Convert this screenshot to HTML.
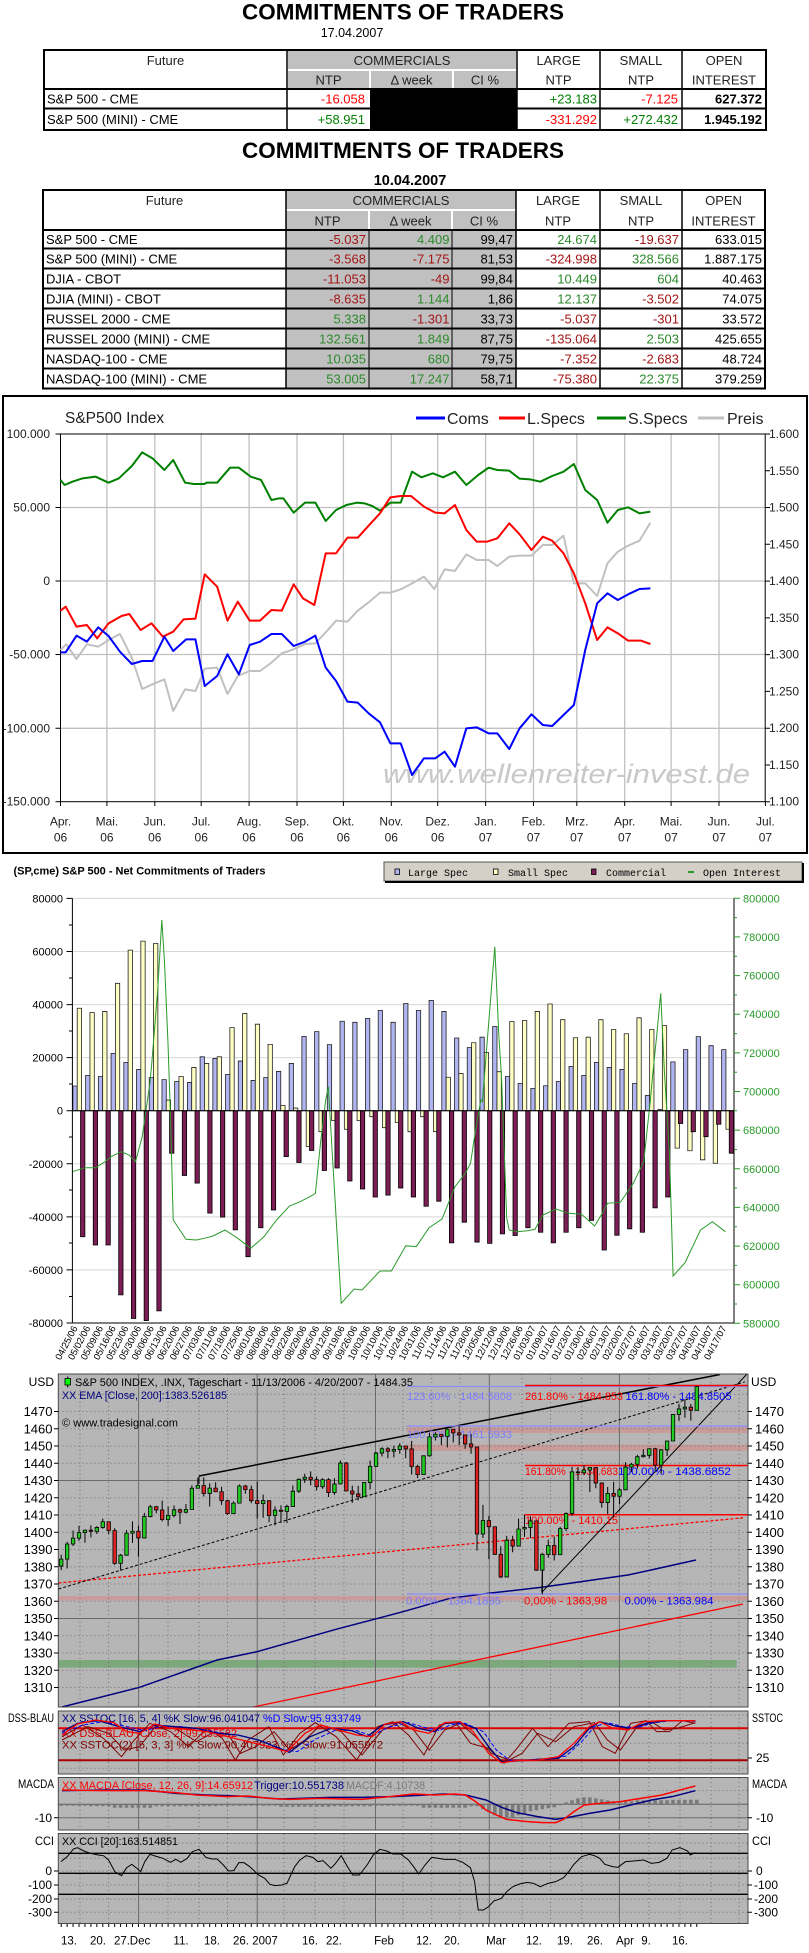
<!DOCTYPE html>
<html><head><meta charset="utf-8"><title>COT</title>
<style>
html,body{margin:0;padding:0;background:#fff;}
svg{display:block;}
text{font-family:"Liberation Sans",Arial,sans-serif;}
.mono{font-family:"Liberation Mono","DejaVu Sans Mono",monospace;}
</style></head><body>
<svg width="809" height="1953" viewBox="0 0 809 1953" xmlns="http://www.w3.org/2000/svg">
<rect width="809" height="1953" fill="#fff"/>

<!-- ================= TABLE 1 ================= -->
<text x="403" y="19.5" font-size="22" font-weight="bold" text-anchor="middle" textLength="322" lengthAdjust="spacingAndGlyphs">COMMITMENTS OF TRADERS</text>
<text x="352" y="37" font-size="12.5" text-anchor="middle">17.04.2007</text>

<rect x="288" y="51" width="228" height="18" fill="#c0c0c0"/>
<rect x="288" y="71" width="81" height="17" fill="#c0c0c0"/>
<rect x="371" y="71" width="81" height="17" fill="#c0c0c0"/>
<rect x="454" y="71" width="62" height="17" fill="#c0c0c0"/>
<rect x="370" y="89" width="147" height="41" fill="#000"/>
<g stroke="#000" fill="none">
<rect x="44" y="50" width="722" height="80" stroke-width="2"/>
<path d="M287 50V130M517 50V130M600 50V130M682 50V130" stroke-width="1.5"/>
<path d="M44 89H766M44 108.5H766" stroke-width="2"/>
</g>
<g font-size="13" fill="#222" text-anchor="middle">
<text x="165.5" y="65">Future</text>
<text x="402" y="65">COMMERCIALS</text>
<text x="558.5" y="65">LARGE</text><text x="558.5" y="84.5">NTP</text>
<text x="641" y="65">SMALL</text><text x="641" y="84.5">NTP</text>
<text x="724" y="65">OPEN</text><text x="724" y="84.5">INTEREST</text>
<text x="328.5" y="84.5">NTP</text>
<text x="411.5" y="84.5">Δ week</text>
<text x="485" y="84.5">CI %</text>
</g>
<g font-size="13">
<text x="47" y="103.5">S&amp;P 500 - CME</text>
<text x="47" y="124">S&amp;P 500 (MINI) - CME</text>
<g text-anchor="end">
<text x="365" y="103.5" fill="#ff0000">-16.058</text>
<text x="597" y="103.5" fill="#008000">+23.183</text>
<text x="678" y="103.5" fill="#ff0000">-7.125</text>
<text x="762" y="103.5" font-weight="bold">627.372</text>
<text x="365" y="124" fill="#008000">+58.951</text>
<text x="597" y="124" fill="#ff0000">-331.292</text>
<text x="678" y="124" fill="#008000">+272.432</text>
<text x="762" y="124" font-weight="bold">1.945.192</text>
</g></g>

<!-- ================= TABLE 2 ================= -->
<text x="403" y="158" font-size="22" font-weight="bold" text-anchor="middle" textLength="322" lengthAdjust="spacingAndGlyphs">COMMITMENTS OF TRADERS</text>
<text x="410" y="185" font-size="14.5" font-weight="bold" text-anchor="middle">10.04.2007</text>

<rect x="286" y="190" width="230" height="198.5" fill="#c0c0c0"/>
<path d="M286 210H516M369 210V230M452 210V230" stroke="#fff" stroke-width="2"/>
<g stroke="#000" fill="none">
<rect x="43" y="190" width="722" height="198.5" stroke-width="2"/>
<path d="M286 190V388.5M516 190V388.5M600 190V388.5M682 190V388.5" stroke-width="1.5"/>
<path d="M369 230V388.5M452 230V388.5" stroke-width="1"/>
<path d="M43 230H765M43 248.5H765M43 268.5H765M43 288.5H765M43 308.5H765M43 328.5H765M43 348.5H765M43 368.5H765" stroke-width="2"/>
</g>
<g font-size="13" fill="#222" text-anchor="middle">
<text x="164.5" y="205">Future</text>
<text x="401" y="205">COMMERCIALS</text>
<text x="558" y="205">LARGE</text><text x="558" y="225.5">NTP</text>
<text x="641" y="205">SMALL</text><text x="641" y="225.5">NTP</text>
<text x="723.5" y="205">OPEN</text><text x="723.5" y="225.5">INTEREST</text>
<text x="327.5" y="225.5">NTP</text>
<text x="410.5" y="225.5">Δ week</text>
<text x="484" y="225.5">CI %</text>
</g>
<g font-size="13">
<text x="46" y="244">S&amp;P 500 - CME</text>
<text x="46" y="263.5">S&amp;P 500 (MINI) - CME</text>
<text x="46" y="283.5">DJIA - CBOT</text>
<text x="46" y="303.5">DJIA (MINI) - CBOT</text>
<text x="46" y="323.5">RUSSEL 2000 - CME</text>
<text x="46" y="343.5">RUSSEL 2000 (MINI) - CME</text>
<text x="46" y="363.5">NASDAQ-100 - CME</text>
<text x="46" y="383.5">NASDAQ-100 (MINI) - CME</text>
</g>
<g font-size="13" text-anchor="end">
<g>
<text x="366" y="244" fill="#a31515">-5.037</text>
<text x="366" y="263.5" fill="#a31515">-3.568</text>
<text x="366" y="283.5" fill="#a31515">-11.053</text>
<text x="366" y="303.5" fill="#a31515">-8.635</text>
<text x="366" y="323.5" fill="#2b8a2b">5.338</text>
<text x="366" y="343.5" fill="#2b8a2b">132.561</text>
<text x="366" y="363.5" fill="#2b8a2b">10.035</text>
<text x="366" y="383.5" fill="#2b8a2b">53.005</text>
</g>
<g>
<text x="449.5" y="244" fill="#2b8a2b">4.409</text>
<text x="449.5" y="263.5" fill="#a31515">-7.175</text>
<text x="449.5" y="283.5" fill="#a31515">-49</text>
<text x="449.5" y="303.5" fill="#2b8a2b">1.144</text>
<text x="449.5" y="323.5" fill="#a31515">-1.301</text>
<text x="449.5" y="343.5" fill="#2b8a2b">1.849</text>
<text x="449.5" y="363.5" fill="#2b8a2b">680</text>
<text x="449.5" y="383.5" fill="#2b8a2b">17.247</text>
</g>
<g fill="#000">
<text x="513" y="244">99,47</text>
<text x="513" y="263.5">81,53</text>
<text x="513" y="283.5">99,84</text>
<text x="513" y="303.5">1,86</text>
<text x="513" y="323.5">33,73</text>
<text x="513" y="343.5">87,75</text>
<text x="513" y="363.5">79,75</text>
<text x="513" y="383.5">58,71</text>
</g>
<g>
<text x="597" y="244" fill="#2b8a2b">24.674</text>
<text x="597" y="263.5" fill="#a31515">-324.998</text>
<text x="597" y="283.5" fill="#2b8a2b">10.449</text>
<text x="597" y="303.5" fill="#2b8a2b">12.137</text>
<text x="597" y="323.5" fill="#a31515">-5.037</text>
<text x="597" y="343.5" fill="#a31515">-135.064</text>
<text x="597" y="363.5" fill="#a31515">-7.352</text>
<text x="597" y="383.5" fill="#a31515">-75.380</text>
</g>
<g>
<text x="679" y="244" fill="#a31515">-19.637</text>
<text x="679" y="263.5" fill="#2b8a2b">328.566</text>
<text x="679" y="283.5" fill="#2b8a2b">604</text>
<text x="679" y="303.5" fill="#a31515">-3.502</text>
<text x="679" y="323.5" fill="#a31515">-301</text>
<text x="679" y="343.5" fill="#2b8a2b">2.503</text>
<text x="679" y="363.5" fill="#a31515">-2.683</text>
<text x="679" y="383.5" fill="#2b8a2b">22.375</text>
</g>
<g fill="#000">
<text x="762" y="244">633.015</text>
<text x="762" y="263.5">1.887.175</text>
<text x="762" y="283.5">40.463</text>
<text x="762" y="303.5">74.075</text>
<text x="762" y="323.5">33.572</text>
<text x="762" y="343.5">425.655</text>
<text x="762" y="363.5">48.724</text>
<text x="762" y="383.5">379.259</text>
</g>
</g>

<!-- ================= CHART 1 ================= -->
<rect x="3" y="396" width="804" height="457" fill="#fff" stroke="#000" stroke-width="2"/>
<text x="65" y="423" font-size="15.5" fill="#222">S&amp;P500 Index</text>
<g stroke-width="3">
<line x1="416" y1="418" x2="445" y2="418" stroke="#0000ff"/>
<line x1="499" y1="418" x2="525" y2="418" stroke="#ff0000"/>
<line x1="597" y1="418" x2="626" y2="418" stroke="#008000"/>
<line x1="698" y1="418" x2="724" y2="418" stroke="#c0c0c0"/>
</g>
<g font-size="16" fill="#222">
<text x="447" y="424">Coms</text>
<text x="527" y="424">L.Specs</text>
<text x="628" y="424">S.Specs</text>
<text x="727" y="424">Preis</text>
</g>
<path d="M106.9 434V801.7M154.8 434V801.7M201.2 434V801.7M249.1 434V801.7M297 434V801.7M343.4 434V801.7M391.3 434V801.7M437.7 434V801.7M485.6 434V801.7M533.5 434V801.7M576.8 434V801.7M624.7 434V801.7M671.1 434V801.7M719 434V801.7M60.5 507.5H765.2M60.5 581H765.2M60.5 654.5H765.2M60.5 728.3H765.2" stroke="#c0c0c0" stroke-width="1.3" fill="none"/>
<text x="383" y="783" font-size="27" font-style="italic" fill="#c8c8c8" textLength="367" lengthAdjust="spacingAndGlyphs">www.wellenreiter-invest.de</text>
<rect x="60.5" y="434" width="704.7" height="367.7" fill="none" stroke="#000" stroke-width="1"/>
<path d="M55.5 434H60.5M55.5 507.5H60.5M55.5 581H60.5M55.5 654.5H60.5M55.5 728.3H60.5M55.5 801.7H60.5M765.2 434H770M765.2 470.8H770M765.2 507.5H770M765.2 544.3H770M765.2 581.1H770M765.2 617.9H770M765.2 654.6H770M765.2 691.4H770M765.2 728.2H770M765.2 765H770M765.2 801.7H770M60.5 801.7V806M106.9 801.7V806M154.8 801.7V806M201.2 801.7V806M249.1 801.7V806M297 801.7V806M343.4 801.7V806M391.3 801.7V806M437.7 801.7V806M485.6 801.7V806M533.5 801.7V806M576.8 801.7V806M624.7 801.7V806M671.1 801.7V806M719 801.7V806M765.4 801.7V806" stroke="#000" stroke-width="1"/>
<g font-size="12" fill="#222" text-anchor="end">
<text x="50" y="438">100.000</text>
<text x="50" y="511.5">50.000</text>
<text x="50" y="585">0</text>
<text x="50" y="658.5">-50.000</text>
<text x="50" y="732.3">-100.000</text>
<text x="50" y="805.7">-150.000</text>
</g>
<g font-size="12" fill="#222">
<text x="769" y="438">1.600</text>
<text x="769" y="474.8">1.550</text>
<text x="769" y="511.5">1.500</text>
<text x="769" y="548.3">1.450</text>
<text x="769" y="585.1">1.400</text>
<text x="769" y="621.9">1.350</text>
<text x="769" y="658.6">1.300</text>
<text x="769" y="695.4">1.250</text>
<text x="769" y="732.2">1.200</text>
<text x="769" y="769">1.150</text>
<text x="769" y="805.7">1.100</text>
</g>
<g font-size="12" fill="#222" text-anchor="middle">
<text x="60.5" y="825.5">Apr.</text><text x="60.5" y="841.5">06</text>
<text x="106.9" y="825.5">Mai.</text><text x="106.9" y="841.5">06</text>
<text x="154.8" y="825.5">Jun.</text><text x="154.8" y="841.5">06</text>
<text x="201.2" y="825.5">Jul.</text><text x="201.2" y="841.5">06</text>
<text x="249.1" y="825.5">Aug.</text><text x="249.1" y="841.5">06</text>
<text x="297" y="825.5">Sep.</text><text x="297" y="841.5">06</text>
<text x="343.4" y="825.5">Okt.</text><text x="343.4" y="841.5">06</text>
<text x="391.3" y="825.5">Nov.</text><text x="391.3" y="841.5">06</text>
<text x="437.7" y="825.5">Dez.</text><text x="437.7" y="841.5">06</text>
<text x="485.6" y="825.5">Jan.</text><text x="485.6" y="841.5">07</text>
<text x="533.5" y="825.5">Feb.</text><text x="533.5" y="841.5">07</text>
<text x="576.8" y="825.5">Mrz.</text><text x="576.8" y="841.5">07</text>
<text x="624.7" y="825.5">Apr.</text><text x="624.7" y="841.5">07</text>
<text x="671.1" y="825.5">Mai.</text><text x="671.1" y="841.5">07</text>
<text x="719" y="825.5">Jun.</text><text x="719" y="841.5">07</text>
<text x="765.4" y="825.5">Jul.</text><text x="765.4" y="841.5">07</text>
</g>
<g transform="translate(0,390) scale(0.517,0.33333)" fill="none" stroke-width="2" stroke-linejoin="round">
<polyline vector-effect="non-scaling-stroke" stroke="#c0c0c0" points="117,780 128,763 148,807 168,763 190,770 210,750 232,732 255,803 275,897 295,883 318,868 335,963 358,898 378,903 396,836 420,833 440,912 460,858 483,843 503,843 525,818 545,790 568,778 590,762 610,760 630,727 650,692 672,695 692,662 713,637 735,608 755,608 775,598 797,580 820,560 840,597 860,538 880,543 902,493 922,510 945,510 962,528 985,500 1005,497 1028,497 1050,465 1068,465 1090,437 1110,580 1132,580 1155,618 1175,520 1195,485 1215,467 1237,452 1258,398"/>
<polyline vector-effect="non-scaling-stroke" stroke="#008000" points="117,270 125,285 140,275 160,265 185,260 210,278 230,265 255,228 275,187 295,205 318,240 335,210 358,278 375,282 395,282 400,278 420,278 445,233 462,233 485,260 505,270 525,330 540,325 548,325 568,368 590,338 610,338 630,393 650,360 670,345 690,338 705,340 720,348 735,362 755,338 775,338 797,245 815,262 837,250 857,262 880,245 902,285 925,255 945,233 962,240 985,242 1005,266 1025,268 1045,275 1068,258 1090,245 1110,222 1132,300 1155,330 1175,398 1195,360 1215,352 1237,370 1258,365"/>
<polyline vector-effect="non-scaling-stroke" stroke="#ff0000" points="117,662 127,650 148,710 168,705 188,745 210,700 235,678 250,672 272,720 293,700 315,740 335,725 355,688 378,686 396,553 420,590 440,692 460,635 483,692 503,692 525,660 545,662 568,583 586,625 608,645 630,490 650,490 672,443 692,443 713,407 735,370 755,322 775,318 795,318 820,350 842,368 860,370 880,345 902,420 922,455 942,455 962,445 985,400 1005,433 1028,480 1050,440 1068,452 1090,490 1110,550 1132,640 1155,750 1175,712 1195,730 1215,752 1240,752 1258,762"/>
<polyline vector-effect="non-scaling-stroke" stroke="#0000ff" points="117,787 127,787 148,737 168,755 190,712 210,738 232,785 255,822 275,813 295,813 318,740 335,783 360,748 378,748 396,888 420,858 440,793 462,853 483,765 503,755 525,732 545,732 568,768 590,755 610,737 630,833 650,873 672,935 692,938 713,970 735,997 755,1060 775,1060 797,1155 820,1105 842,1105 860,1085 880,1130 902,1015 922,1012 945,1030 962,1030 985,1077 1005,1015 1028,973 1050,1005 1068,1008 1090,975 1110,945 1132,780 1155,640 1175,610 1195,630 1215,613 1237,597 1258,595"/>
</g>

<!-- ================= CHART 2 ================= -->
<text x="13.5" y="874.5" font-size="11" font-weight="bold" textLength="252" lengthAdjust="spacingAndGlyphs">(SP,cme) S&amp;P 500 - Net Commitments of Traders</text>
<rect x="384" y="862" width="418" height="19" fill="#d4d0c8" stroke="#555" stroke-width="1"/>
<path d="M385 882H803V863" stroke="#000" stroke-width="2" fill="none"/>
<rect x="395" y="869" width="4.5" height="5.5" fill="#b0b4f0" stroke="#000" stroke-width="0.8"/>
<rect x="493.5" y="869" width="4.5" height="5.5" fill="#ffffc4" stroke="#000" stroke-width="0.8"/>
<rect x="591.5" y="869" width="4.5" height="5.5" fill="#7d1d55" stroke="#000" stroke-width="0.8"/>
<line x1="688" y1="872" x2="694" y2="872" stroke="#2a9a2a" stroke-width="2"/>
<g class="mono" font-size="10" fill="#000">
<text x="408" y="876" class="mono">Large Spec</text>
<text x="508" y="876" class="mono">Small Spec</text>
<text x="606" y="876" class="mono">Commercial</text>
<text x="703" y="876" class="mono">Open Interest</text>
</g>
<path d="M72.4 898.4H734M72.4 951.5H734M72.4 1004.6H734M72.4 1057.6H734M72.4 1163.8H734M72.4 1216.9H734M72.4 1269.9H734" stroke="#d8d8d8" stroke-width="1" fill="none"/>
<g transform="translate(72.4,1110.7) scale(12.72,-2.654)" stroke="#222" stroke-width="0.8">
<g fill="#b0b4f0">
<rect vector-effect="non-scaling-stroke" x="0.04" y="0" width="0.34" height="9.3"/>
<rect vector-effect="non-scaling-stroke" x="1.04" y="0" width="0.34" height="13.3"/>
<rect vector-effect="non-scaling-stroke" x="2.04" y="0" width="0.34" height="12.9"/>
<rect vector-effect="non-scaling-stroke" x="3.04" y="0" width="0.34" height="21.6"/>
<rect vector-effect="non-scaling-stroke" x="4.04" y="0" width="0.34" height="18.2"/>
<rect vector-effect="non-scaling-stroke" x="5.04" y="0" width="0.34" height="15.5"/>
<rect vector-effect="non-scaling-stroke" x="6.04" y="0" width="0.34" height="12.5"/>
<rect vector-effect="non-scaling-stroke" x="7.04" y="0" width="0.34" height="11.7"/>
<rect vector-effect="non-scaling-stroke" x="8.04" y="0" width="0.34" height="11.0"/>
<rect vector-effect="non-scaling-stroke" x="9.04" y="0" width="0.34" height="10.6"/>
<rect vector-effect="non-scaling-stroke" x="10.04" y="0" width="0.34" height="20.3"/>
<rect vector-effect="non-scaling-stroke" x="11.04" y="0" width="0.34" height="19.7"/>
<rect vector-effect="non-scaling-stroke" x="12.04" y="0" width="0.34" height="13.7"/>
<rect vector-effect="non-scaling-stroke" x="13.04" y="0" width="0.34" height="18.7"/>
<rect vector-effect="non-scaling-stroke" x="14.04" y="0" width="0.34" height="11.4"/>
<rect vector-effect="non-scaling-stroke" x="15.04" y="0" width="0.34" height="12.5"/>
<rect vector-effect="non-scaling-stroke" x="16.04" y="0" width="0.34" height="14.8"/>
<rect vector-effect="non-scaling-stroke" x="17.04" y="0" width="0.34" height="17.8"/>
<rect vector-effect="non-scaling-stroke" x="18.04" y="0" width="0.34" height="28.0"/>
<rect vector-effect="non-scaling-stroke" x="19.04" y="0" width="0.34" height="29.8"/>
<rect vector-effect="non-scaling-stroke" x="20.04" y="0" width="0.34" height="24.9"/>
<rect vector-effect="non-scaling-stroke" x="21.04" y="0" width="0.34" height="33.7"/>
<rect vector-effect="non-scaling-stroke" x="22.04" y="0" width="0.34" height="33.3"/>
<rect vector-effect="non-scaling-stroke" x="23.04" y="0" width="0.34" height="34.8"/>
<rect vector-effect="non-scaling-stroke" x="24.04" y="0" width="0.34" height="37.8"/>
<rect vector-effect="non-scaling-stroke" x="25.04" y="0" width="0.34" height="33.3"/>
<rect vector-effect="non-scaling-stroke" x="26.04" y="0" width="0.34" height="40.4"/>
<rect vector-effect="non-scaling-stroke" x="27.04" y="0" width="0.34" height="37.8"/>
<rect vector-effect="non-scaling-stroke" x="28.04" y="0" width="0.34" height="41.5"/>
<rect vector-effect="non-scaling-stroke" x="29.04" y="0" width="0.34" height="37.4"/>
<rect vector-effect="non-scaling-stroke" x="30.04" y="0" width="0.34" height="27.4"/>
<rect vector-effect="non-scaling-stroke" x="31.04" y="0" width="0.34" height="23.8"/>
<rect vector-effect="non-scaling-stroke" x="32.04" y="0" width="0.34" height="27.7"/>
<rect vector-effect="non-scaling-stroke" x="33.04" y="0" width="0.34" height="31.7"/>
<rect vector-effect="non-scaling-stroke" x="34.04" y="0" width="0.34" height="12.9"/>
<rect vector-effect="non-scaling-stroke" x="35.04" y="0" width="0.34" height="10.3"/>
<rect vector-effect="non-scaling-stroke" x="36.04" y="0" width="0.34" height="8.4"/>
<rect vector-effect="non-scaling-stroke" x="37.04" y="0" width="0.34" height="9.4"/>
<rect vector-effect="non-scaling-stroke" x="38.04" y="0" width="0.34" height="11.0"/>
<rect vector-effect="non-scaling-stroke" x="39.04" y="0" width="0.34" height="16.7"/>
<rect vector-effect="non-scaling-stroke" x="40.04" y="0" width="0.34" height="13.3"/>
<rect vector-effect="non-scaling-stroke" x="41.04" y="0" width="0.34" height="18.2"/>
<rect vector-effect="non-scaling-stroke" x="42.04" y="0" width="0.34" height="16.3"/>
<rect vector-effect="non-scaling-stroke" x="43.04" y="0" width="0.34" height="15.5"/>
<rect vector-effect="non-scaling-stroke" x="44.04" y="0" width="0.34" height="10.3"/>
<rect vector-effect="non-scaling-stroke" x="45.04" y="0" width="0.34" height="5.7"/>
<rect vector-effect="non-scaling-stroke" x="46.04" y="0" width="0.34" height="0.5"/>
<rect vector-effect="non-scaling-stroke" x="47.04" y="0" width="0.34" height="18.4"/>
<rect vector-effect="non-scaling-stroke" x="48.04" y="0" width="0.34" height="23.0"/>
<rect vector-effect="non-scaling-stroke" x="49.04" y="0" width="0.34" height="27.9"/>
<rect vector-effect="non-scaling-stroke" x="50.04" y="0" width="0.34" height="24.5"/>
<rect vector-effect="non-scaling-stroke" x="51.04" y="0" width="0.34" height="23.0"/>
</g>
<g fill="#ffffc4">
<rect vector-effect="non-scaling-stroke" x="0.38" y="0" width="0.34" height="38.6"/>
<rect vector-effect="non-scaling-stroke" x="1.38" y="0" width="0.34" height="37.0"/>
<rect vector-effect="non-scaling-stroke" x="2.38" y="0" width="0.34" height="37.4"/>
<rect vector-effect="non-scaling-stroke" x="3.38" y="0" width="0.34" height="48.0"/>
<rect vector-effect="non-scaling-stroke" x="4.38" y="0" width="0.34" height="60.5"/>
<rect vector-effect="non-scaling-stroke" x="5.38" y="0" width="0.34" height="63.9"/>
<rect vector-effect="non-scaling-stroke" x="6.38" y="0" width="0.34" height="63.0"/>
<rect vector-effect="non-scaling-stroke" x="7.38" y="0" width="0.34" height="4.0"/>
<rect vector-effect="non-scaling-stroke" x="8.38" y="0" width="0.34" height="12.9"/>
<rect vector-effect="non-scaling-stroke" x="9.38" y="0" width="0.34" height="16.3"/>
<rect vector-effect="non-scaling-stroke" x="10.38" y="0" width="0.34" height="17.8"/>
<rect vector-effect="non-scaling-stroke" x="11.38" y="0" width="0.34" height="20.3"/>
<rect vector-effect="non-scaling-stroke" x="12.38" y="0" width="0.34" height="31.3"/>
<rect vector-effect="non-scaling-stroke" x="13.38" y="0" width="0.34" height="36.6"/>
<rect vector-effect="non-scaling-stroke" x="14.38" y="0" width="0.34" height="32.6"/>
<rect vector-effect="non-scaling-stroke" x="15.38" y="0" width="0.34" height="25.0"/>
<rect vector-effect="non-scaling-stroke" x="16.38" y="0" width="0.34" height="2.0"/>
<rect vector-effect="non-scaling-stroke" x="17.38" y="0" width="0.34" height="1.0"/>
<rect vector-effect="non-scaling-stroke" x="18.38" y="-13.5" width="0.34" height="13.5"/>
<rect vector-effect="non-scaling-stroke" x="19.38" y="-7.9" width="0.34" height="7.9"/>
<rect vector-effect="non-scaling-stroke" x="20.38" y="-3.75" width="0.34" height="3.75"/>
<rect vector-effect="non-scaling-stroke" x="21.38" y="-7" width="0.34" height="7"/>
<rect vector-effect="non-scaling-stroke" x="22.38" y="-3.75" width="0.34" height="3.75"/>
<rect vector-effect="non-scaling-stroke" x="23.38" y="-2.25" width="0.34" height="2.25"/>
<rect vector-effect="non-scaling-stroke" x="24.38" y="-6.4" width="0.34" height="6.4"/>
<rect vector-effect="non-scaling-stroke" x="25.38" y="-4.5" width="0.34" height="4.5"/>
<rect vector-effect="non-scaling-stroke" x="26.38" y="-7.9" width="0.34" height="7.9"/>
<rect vector-effect="non-scaling-stroke" x="27.38" y="-2.25" width="0.34" height="2.25"/>
<rect vector-effect="non-scaling-stroke" x="28.38" y="-7.9" width="0.34" height="7.9"/>
<rect vector-effect="non-scaling-stroke" x="29.38" y="0" width="0.34" height="12.6"/>
<rect vector-effect="non-scaling-stroke" x="30.38" y="0" width="0.34" height="14.0"/>
<rect vector-effect="non-scaling-stroke" x="31.38" y="0" width="0.34" height="25.6"/>
<rect vector-effect="non-scaling-stroke" x="32.38" y="0" width="0.34" height="21.9"/>
<rect vector-effect="non-scaling-stroke" x="33.38" y="0" width="0.34" height="14.7"/>
<rect vector-effect="non-scaling-stroke" x="34.38" y="0" width="0.34" height="33.6"/>
<rect vector-effect="non-scaling-stroke" x="35.38" y="0" width="0.34" height="34.0"/>
<rect vector-effect="non-scaling-stroke" x="36.38" y="0" width="0.34" height="37.4"/>
<rect vector-effect="non-scaling-stroke" x="37.38" y="0" width="0.34" height="40.2"/>
<rect vector-effect="non-scaling-stroke" x="38.38" y="0" width="0.34" height="34.3"/>
<rect vector-effect="non-scaling-stroke" x="39.38" y="0" width="0.34" height="27.5"/>
<rect vector-effect="non-scaling-stroke" x="40.38" y="0" width="0.34" height="27.7"/>
<rect vector-effect="non-scaling-stroke" x="41.38" y="0" width="0.34" height="34.3"/>
<rect vector-effect="non-scaling-stroke" x="42.38" y="0" width="0.34" height="30.6"/>
<rect vector-effect="non-scaling-stroke" x="43.38" y="0" width="0.34" height="29.0"/>
<rect vector-effect="non-scaling-stroke" x="44.38" y="0" width="0.34" height="35.0"/>
<rect vector-effect="non-scaling-stroke" x="45.38" y="0" width="0.34" height="30.6"/>
<rect vector-effect="non-scaling-stroke" x="46.38" y="0" width="0.34" height="32.1"/>
<rect vector-effect="non-scaling-stroke" x="47.38" y="-14.1" width="0.34" height="14.1"/>
<rect vector-effect="non-scaling-stroke" x="48.38" y="-15.1" width="0.34" height="15.1"/>
<rect vector-effect="non-scaling-stroke" x="49.38" y="-18.5" width="0.34" height="18.5"/>
<rect vector-effect="non-scaling-stroke" x="50.38" y="-19.8" width="0.34" height="19.8"/>
<rect vector-effect="non-scaling-stroke" x="51.38" y="-7" width="0.34" height="7"/>
</g>
<g fill="#7d1d55" stroke="#000">
<rect vector-effect="non-scaling-stroke" x="0.64" y="-47.5" width="0.34" height="47.5"/>
<rect vector-effect="non-scaling-stroke" x="1.64" y="-50.6" width="0.34" height="50.6"/>
<rect vector-effect="non-scaling-stroke" x="2.64" y="-50.6" width="0.34" height="50.6"/>
<rect vector-effect="non-scaling-stroke" x="3.64" y="-69.4" width="0.34" height="69.4"/>
<rect vector-effect="non-scaling-stroke" x="4.64" y="-78.3" width="0.34" height="78.3"/>
<rect vector-effect="non-scaling-stroke" x="5.64" y="-79.1" width="0.34" height="79.1"/>
<rect vector-effect="non-scaling-stroke" x="6.64" y="-75.4" width="0.34" height="75.4"/>
<rect vector-effect="non-scaling-stroke" x="7.64" y="-16" width="0.34" height="16"/>
<rect vector-effect="non-scaling-stroke" x="8.64" y="-24.4" width="0.34" height="24.4"/>
<rect vector-effect="non-scaling-stroke" x="9.64" y="-27.3" width="0.34" height="27.3"/>
<rect vector-effect="non-scaling-stroke" x="10.64" y="-38.6" width="0.34" height="38.6"/>
<rect vector-effect="non-scaling-stroke" x="11.64" y="-40.1" width="0.34" height="40.1"/>
<rect vector-effect="non-scaling-stroke" x="12.64" y="-44.9" width="0.34" height="44.9"/>
<rect vector-effect="non-scaling-stroke" x="13.64" y="-55" width="0.34" height="55"/>
<rect vector-effect="non-scaling-stroke" x="14.64" y="-44.1" width="0.34" height="44.1"/>
<rect vector-effect="non-scaling-stroke" x="15.64" y="-37.4" width="0.34" height="37.4"/>
<rect vector-effect="non-scaling-stroke" x="16.64" y="-17.3" width="0.34" height="17.3"/>
<rect vector-effect="non-scaling-stroke" x="17.64" y="-19.5" width="0.34" height="19.5"/>
<rect vector-effect="non-scaling-stroke" x="18.64" y="-15" width="0.34" height="15"/>
<rect vector-effect="non-scaling-stroke" x="19.64" y="-22.5" width="0.34" height="22.5"/>
<rect vector-effect="non-scaling-stroke" x="20.64" y="-21.6" width="0.34" height="21.6"/>
<rect vector-effect="non-scaling-stroke" x="21.64" y="-26.5" width="0.34" height="26.5"/>
<rect vector-effect="non-scaling-stroke" x="22.64" y="-29.5" width="0.34" height="29.5"/>
<rect vector-effect="non-scaling-stroke" x="23.64" y="-32.5" width="0.34" height="32.5"/>
<rect vector-effect="non-scaling-stroke" x="24.64" y="-31.8" width="0.34" height="31.8"/>
<rect vector-effect="non-scaling-stroke" x="25.64" y="-29.1" width="0.34" height="29.1"/>
<rect vector-effect="non-scaling-stroke" x="26.64" y="-32.5" width="0.34" height="32.5"/>
<rect vector-effect="non-scaling-stroke" x="27.64" y="-36" width="0.34" height="36"/>
<rect vector-effect="non-scaling-stroke" x="28.64" y="-34.1" width="0.34" height="34.1"/>
<rect vector-effect="non-scaling-stroke" x="29.64" y="-49.8" width="0.34" height="49.8"/>
<rect vector-effect="non-scaling-stroke" x="30.64" y="-42" width="0.34" height="42"/>
<rect vector-effect="non-scaling-stroke" x="31.64" y="-49.5" width="0.34" height="49.5"/>
<rect vector-effect="non-scaling-stroke" x="32.64" y="-50" width="0.34" height="50"/>
<rect vector-effect="non-scaling-stroke" x="33.64" y="-46.4" width="0.34" height="46.4"/>
<rect vector-effect="non-scaling-stroke" x="34.64" y="-47" width="0.34" height="47"/>
<rect vector-effect="non-scaling-stroke" x="35.64" y="-44.1" width="0.34" height="44.1"/>
<rect vector-effect="non-scaling-stroke" x="36.64" y="-45.8" width="0.34" height="45.8"/>
<rect vector-effect="non-scaling-stroke" x="37.64" y="-49.8" width="0.34" height="49.8"/>
<rect vector-effect="non-scaling-stroke" x="38.64" y="-45.8" width="0.34" height="45.8"/>
<rect vector-effect="non-scaling-stroke" x="39.64" y="-44.1" width="0.34" height="44.1"/>
<rect vector-effect="non-scaling-stroke" x="40.64" y="-41.3" width="0.34" height="41.3"/>
<rect vector-effect="non-scaling-stroke" x="41.64" y="-52.5" width="0.34" height="52.5"/>
<rect vector-effect="non-scaling-stroke" x="42.64" y="-46.9" width="0.34" height="46.9"/>
<rect vector-effect="non-scaling-stroke" x="43.64" y="-44.5" width="0.34" height="44.5"/>
<rect vector-effect="non-scaling-stroke" x="44.64" y="-45.8" width="0.34" height="45.8"/>
<rect vector-effect="non-scaling-stroke" x="45.64" y="-36.6" width="0.34" height="36.6"/>
<rect vector-effect="non-scaling-stroke" x="46.64" y="-32.5" width="0.34" height="32.5"/>
<rect vector-effect="non-scaling-stroke" x="47.64" y="-4.8" width="0.34" height="4.8"/>
<rect vector-effect="non-scaling-stroke" x="48.64" y="-7.9" width="0.34" height="7.9"/>
<rect vector-effect="non-scaling-stroke" x="49.64" y="-9.8" width="0.34" height="9.8"/>
<rect vector-effect="non-scaling-stroke" x="50.64" y="-5.1" width="0.34" height="5.1"/>
<rect vector-effect="non-scaling-stroke" x="51.64" y="-16" width="0.34" height="16"/>
</g>
</g>
<polyline fill="none" stroke="#2a9a2a" stroke-width="1" points="72.4,1171.7 85.3,1167.7 95.6,1167.7 106,1161 111,1156.7 121.5,1151.7 129,1155 135.5,1161.7 142.2,1136.7 149.9,1083 151.5,1066.7 157.7,990 161.8,920 164.4,960 168,1043.3 170.6,1120 173.2,1220 186,1239.3 196.5,1240 206.8,1237.7 213,1236 225,1230 237.8,1238.3 250.7,1248.3 263.7,1237 276.6,1220 289.5,1206 300,1201.7 310,1196.7 315.4,1193.3 320.5,1143 325.7,1100 328.3,1086.7 341.2,1303.3 354.1,1289 362,1290 380,1271 391.4,1271 405.8,1245.7 416.2,1246.7 429.1,1227.7 442,1219 455,1186.7 465.3,1173.3 470.5,1163.3 475.6,1130 480.8,1100 482.4,1101.7 494.8,946.7 498.9,1036.7 501.5,1076.7 506.7,1218 509.2,1230 517,1231.7 527.3,1230.7 535,1229.3 543,1215 556,1209 568.7,1213.3 581.6,1214.3 594.6,1226 602.3,1213.3 607.5,1203.3 620.4,1202.3 633.3,1183.3 643.7,1161.7 650.4,1100 652.5,1076.7 656.6,1036.7 660.7,993.3 664.3,1070 669.5,1153.3 673.1,1276 685,1262.7 700.5,1230 712.4,1221.7 725.4,1231.7"/>
<path d="M72.4 1110.7H734M72.4 1323H734M72.4 898.4V1323M734 898.3V1323.3" stroke="#000" stroke-width="1" fill="none"/>
<path d="M66.5 898.4H72.4M66.5 951.5H72.4M66.5 1004.6H72.4M66.5 1057.6H72.4M66.5 1110.7H72.4M66.5 1163.8H72.4M66.5 1216.9H72.4M66.5 1269.9H72.4M66.5 1323H72.4M69 925H72.4M69 978H72.4M69 1031H72.4M69 1084H72.4M69 1137H72.4M69 1190H72.4M69 1243H72.4M69 1296.5H72.4" stroke="#000" stroke-width="1"/>
<path d="M734 898.3H740M734 936.9H740M734 975.6H740M734 1014.2H740M734 1052.9H740M734 1091.5H740M734 1130.1H740M734 1168.8H740M734 1207.4H740M734 1246.1H740M734 1284.7H740M734 1323.3H740M734 917.6H737M734 956.3H737M734 994.9H737M734 1033.6H737M734 1072.2H737M734 1110.8H737M734 1149.5H737M734 1188.1H737M734 1226.8H737M734 1265.4H737M734 1304H737" stroke="#2a9a2a" stroke-width="1"/>
<g font-size="11" fill="#000" text-anchor="end">
<text x="63" y="902.4">80000</text>
<text x="63" y="955.5">60000</text>
<text x="63" y="1008.6">40000</text>
<text x="63" y="1061.6">20000</text>
<text x="63" y="1114.7">0</text>
<text x="63" y="1167.8">-20000</text>
<text x="63" y="1220.9">-40000</text>
<text x="63" y="1273.9">-60000</text>
<text x="63" y="1327">-80000</text>
</g>
<g font-size="11" fill="#2a9a2a">
<text x="743" y="902.3">800000</text>
<text x="743" y="940.9">780000</text>
<text x="743" y="979.6">760000</text>
<text x="743" y="1018.2">740000</text>
<text x="743" y="1056.9">720000</text>
<text x="743" y="1095.5">700000</text>
<text x="743" y="1134.1">680000</text>
<text x="743" y="1172.8">660000</text>
<text x="743" y="1211.4">640000</text>
<text x="743" y="1250.1">620000</text>
<text x="743" y="1288.7">600000</text>
<text x="743" y="1327.3">580000</text>
</g>
<g font-size="9.5" fill="#000" text-anchor="end">
<text transform="translate(77.9,1328) rotate(-62)">04/25/06</text>
<text transform="translate(90.62,1328) rotate(-62)">05/02/06</text>
<text transform="translate(103.34,1328) rotate(-62)">05/09/06</text>
<text transform="translate(116.06,1328) rotate(-62)">05/16/06</text>
<text transform="translate(128.78,1328) rotate(-62)">05/23/06</text>
<text transform="translate(141.5,1328) rotate(-62)">05/30/06</text>
<text transform="translate(154.22,1328) rotate(-62)">06/06/06</text>
<text transform="translate(166.94,1328) rotate(-62)">06/13/06</text>
<text transform="translate(179.66,1328) rotate(-62)">06/20/06</text>
<text transform="translate(192.38,1328) rotate(-62)">06/27/06</text>
<text transform="translate(205.1,1328) rotate(-62)">07/03/06</text>
<text transform="translate(217.82,1328) rotate(-62)">07/11/06</text>
<text transform="translate(230.54,1328) rotate(-62)">07/18/06</text>
<text transform="translate(243.26,1328) rotate(-62)">07/25/06</text>
<text transform="translate(255.98,1328) rotate(-62)">08/01/06</text>
<text transform="translate(268.7,1328) rotate(-62)">08/08/06</text>
<text transform="translate(281.42,1328) rotate(-62)">08/15/06</text>
<text transform="translate(294.14,1328) rotate(-62)">08/22/06</text>
<text transform="translate(306.86,1328) rotate(-62)">08/29/06</text>
<text transform="translate(319.58,1328) rotate(-62)">09/05/06</text>
<text transform="translate(332.3,1328) rotate(-62)">09/12/06</text>
<text transform="translate(345.02,1328) rotate(-62)">09/19/06</text>
<text transform="translate(357.74,1328) rotate(-62)">09/26/06</text>
<text transform="translate(370.46,1328) rotate(-62)">10/03/06</text>
<text transform="translate(383.18,1328) rotate(-62)">10/10/06</text>
<text transform="translate(395.9,1328) rotate(-62)">10/17/06</text>
<text transform="translate(408.62,1328) rotate(-62)">10/24/06</text>
<text transform="translate(421.34,1328) rotate(-62)">10/31/06</text>
<text transform="translate(434.06,1328) rotate(-62)">11/07/06</text>
<text transform="translate(446.78,1328) rotate(-62)">11/14/06</text>
<text transform="translate(459.5,1328) rotate(-62)">11/21/06</text>
<text transform="translate(472.22,1328) rotate(-62)">11/28/06</text>
<text transform="translate(484.94,1328) rotate(-62)">12/05/06</text>
<text transform="translate(497.66,1328) rotate(-62)">12/12/06</text>
<text transform="translate(510.38,1328) rotate(-62)">12/19/06</text>
<text transform="translate(523.1,1328) rotate(-62)">12/26/06</text>
<text transform="translate(535.82,1328) rotate(-62)">01/03/07</text>
<text transform="translate(548.54,1328) rotate(-62)">01/09/07</text>
<text transform="translate(561.26,1328) rotate(-62)">01/16/07</text>
<text transform="translate(573.98,1328) rotate(-62)">01/23/07</text>
<text transform="translate(586.7,1328) rotate(-62)">01/30/07</text>
<text transform="translate(599.42,1328) rotate(-62)">02/06/07</text>
<text transform="translate(612.14,1328) rotate(-62)">02/13/07</text>
<text transform="translate(624.86,1328) rotate(-62)">02/20/07</text>
<text transform="translate(637.58,1328) rotate(-62)">02/27/07</text>
<text transform="translate(650.3,1328) rotate(-62)">03/06/07</text>
<text transform="translate(663.02,1328) rotate(-62)">03/13/07</text>
<text transform="translate(675.74,1328) rotate(-62)">03/20/07</text>
<text transform="translate(688.46,1328) rotate(-62)">03/27/07</text>
<text transform="translate(701.18,1328) rotate(-62)">04/03/07</text>
<text transform="translate(713.9,1328) rotate(-62)">04/10/07</text>
<text transform="translate(726.62,1328) rotate(-62)">04/17/07</text>
</g>

<!-- ================= CHART 3 ================= -->
<g fill="#b6b6b6">
<rect x="58.3" y="1374" width="689.7" height="333"/>
<rect x="58.3" y="1711" width="689.7" height="63"/>
<rect x="58.3" y="1777.5" width="689.7" height="52.5"/>
<rect x="58.3" y="1833.5" width="689.7" height="90"/>
</g>
<rect x="407" y="1427" width="341" height="6" fill="#c99c9c"/>
<rect x="407" y="1444.5" width="341" height="6.5" fill="#c99c9c"/>
<rect x="58.3" y="1596" width="689.7" height="4.5" fill="#c99c9c"/>
<rect x="58.3" y="1660" width="678.4" height="7.7" fill="#7ca87c"/>
<path d="M58.3 1394.25H748M58.3 1411.5H748M58.3 1428.75H748M58.3 1446H748M58.3 1463.25H748M58.3 1497.75H748M58.3 1515H748M58.3 1532.25H748M58.3 1549.5H748M58.3 1566.75H748M58.3 1584H748M58.3 1601.25H748M58.3 1635.75H748M58.3 1653H748M58.3 1670.25H748M58.3 1687.5H748M58.3 1715H748M58.3 1743.3H748M58.3 1768.3H748M58.3 1790.5H748M58.3 1843H748M58.3 1858.3H748M58.3 1871H748M58.3 1885H748M58.3 1899H748M58.3 1912.3H748" stroke="#6e6e6e" stroke-width="1" stroke-dasharray="1 3" fill="none"/>
<path d="M80 1374V1923.5M108.6 1374V1923.5M168 1374V1923.5M199 1374V1923.5M227.5 1374V1923.5M284 1374V1923.5M315 1374V1923.5M344 1374V1923.5M403 1374V1923.5M431.7 1374V1923.5M460 1374V1923.5M522 1374V1923.5M550.6 1374V1923.5M581.6 1374V1923.5M649 1374V1923.5M680 1374V1923.5M711 1374V1923.5M739 1374V1923.5" stroke="#6e6e6e" stroke-width="1" stroke-dasharray="1 3" fill="none"/>
<path d="M138.6 1374V1923.5M257.2 1374V1923.5M375.5 1374V1923.5M489.3 1374V1923.5M619.4 1374V1923.5M58.3 1480.5H748M58.3 1618.5H748" stroke="#6a6a6a" stroke-width="1" fill="none"/>
<g fill="#fff">
<rect x="58" y="1707" width="691" height="4"/>
<rect x="58" y="1774" width="691" height="3.5"/>
<rect x="58" y="1830" width="691" height="3.5"/>
</g>
<polyline fill="none" stroke="#000080" stroke-width="1.5" points="62,1707 139.6,1687.3 217,1660 257,1651.7 336,1629.3 403,1611.7 450,1598.3 488.6,1593.3 541.8,1587.3 628,1575 651,1570 696,1560"/>
<line x1="253.3" y1="1707" x2="743" y2="1604" stroke="#ff0000" stroke-width="1.3"/>
<line x1="58.4" y1="1583" x2="743" y2="1517.8" stroke="#ff0000" stroke-width="1.3" stroke-dasharray="3 2"/>
<line x1="58.4" y1="1589" x2="745" y2="1381.8" stroke="#000" stroke-width="1" stroke-dasharray="3 2"/>
<line x1="199" y1="1476" x2="720" y2="1374.5" stroke="#000" stroke-width="1.5"/>
<line x1="199" y1="1476" x2="199" y2="1484" stroke="#000" stroke-width="1"/>
<line x1="541.8" y1="1592.3" x2="747" y2="1374" stroke="#000" stroke-width="1"/>
<line x1="541.8" y1="1592.3" x2="542.5" y2="1570" stroke="#000" stroke-width="1"/>
<path d="M407 1386.5H748M407 1426H748M407 1594H748" stroke="#8c8cff" stroke-width="1.2"/>
<path d="M525 1385.5H748M525 1465.5H748M525 1514.7H748" stroke="#ff0000" stroke-width="1.5"/>
<g font-size="11">
<text x="407" y="1400" fill="#7c7cff" textLength="105" lengthAdjust="spacingAndGlyphs">123.60% - 1484.5808</text>
<text x="525" y="1400" fill="#ff0000" textLength="98" lengthAdjust="spacingAndGlyphs">261.80% - 1484.853</text>
<text x="625.5" y="1400" fill="#0000ff" textLength="106" lengthAdjust="spacingAndGlyphs">161.80% - 1484.8505</text>
<text x="407" y="1438" fill="#7c7cff" textLength="105" lengthAdjust="spacingAndGlyphs">100.00% - 1461.5933</text>
<text x="525" y="1475" fill="#ff0000" textLength="93" lengthAdjust="spacingAndGlyphs">161.80% - 1438.683</text>
<text x="618" y="1475" fill="#0000ff" textLength="113" lengthAdjust="spacingAndGlyphs">100.00% - 1438.6852</text>
<text x="525" y="1524" fill="#ff0000" textLength="93" lengthAdjust="spacingAndGlyphs">100.00% - 1410.15</text>
<text x="406" y="1604.5" fill="#7c7cff" textLength="95" lengthAdjust="spacingAndGlyphs">0.00% - 1364.1885</text>
<text x="524" y="1604.5" fill="#ff0000" textLength="83" lengthAdjust="spacingAndGlyphs">0,00% - 1363,98</text>
<text x="624.5" y="1604.5" fill="#0000ff" textLength="89" lengthAdjust="spacingAndGlyphs">0.00% - 1363.984</text>
</g>
<g transform="translate(61.2,1532.25) scale(5.94,-1.725)">
<path vector-effect="non-scaling-stroke" stroke="#000" stroke-width="1" fill="none" d="M0 -22V-13M1 -21V-5.5M2 -8V1M3 -5V3.8M4 -6V1.5M5 -3V4M6 -1V3.5M7 2V7.9M8 -1V6.1M9 -19V2.4M10 -22.2V-12.6M11 -13.3V1.2M12 -6.2V6.3M13 -14.1V3.8M14 -3.3V11.2M15 8.6V15.9M16 11V15.3M17 6.3V18.3M18 3.7V14.9M19 8.6V15.6M20 4.8V13.8M21 11V16.3M22 13.2V27.2M23 25.5V31.6M24 20.7V31.8M25 14.9V28.3M26 23.5V29M27 15.9V26.4M28 10.1V18.8M29 10.5V17.9M30 16.9V27.7M31 22.3V27.5M32 16.8V27M33 7.9V29.4M34 8.4V21.8M35 5.8V18.3M36 4V15M37 5.4V15.6M38 5.3V16M39 14.8V27.1M40 22.8V31.2M41 28.6V33.9M42 27.2V35.3M43 24.2V32.4M44 25.2V31.4M45 20.4V31.4M46 21.7V31.3M47 28V41.6M48 23.8V40.7M49 17V27M50 18.5V26.9M51 20.6V28.8M52 24.8V41.6M53 37.9V46.6M54 43.9V49.3M55 43V49.4M56 43.4V50.2M57 45.5V51.6M58 42.9V50M59 33.4V53M60 31.4V39.1M61 33.2V44.4M62 43.8V57.6M63 53.2V58M64 50.5V56.8M65 49.2V60.5M66 52V59.7M67 50.5V61.6M68 48.4V56.4M69 45.5V57M70 -10.6V49.4M71 -3.3V15.9M72 -15.6V9.5M73 -13.1V3.2M74 -26.6V-8.1M75 -25.9V-2.1M76 -11.6V-2M77 -8V7.9M78 -2.7V10.2M79 -3.3V9.3M80 -22.3V6.6M81 -36V-11.9M82 -14.8V-4.3M83 -16.4V-2.5M84 -13.05V3.2M85 0.7V11.5M86 9.5V37.8M87 29.9V37.7M88 33.2V38.9M89 23.3V37.6M90 25.5V37.5M91 14.3V28.6M92 10.4V26.2M93 8.9V29.2M94 16.4V25.6M95 24.6V40.6M96 35V40.2M97 36.9V44.9M98 43.3V48.1M99 43V48.7M100 36.2V48.9M101 33.9V48.1M102 44.2V53.1M103 52.9V68.6M104 64.5V74.4M105 66.4V76.7M106 64.7V74.4M107 70.7V84.7"/>
<g fill="#22cc22" stroke="#000" stroke-width="0.8">
<rect vector-effect="non-scaling-stroke" x="-0.29" y="-19.6" width="0.58" height="4"/>
<rect vector-effect="non-scaling-stroke" x="0.71" y="-15.6" width="0.58" height="8.8"/>
<rect vector-effect="non-scaling-stroke" x="1.71" y="-6.8" width="0.58" height="3.4"/>
<rect vector-effect="non-scaling-stroke" x="2.71" y="-3.4" width="0.58" height="3.2"/>
<rect vector-effect="non-scaling-stroke" x="3.71" y="-0.2" width="0.58" height="1.4"/>
<rect vector-effect="non-scaling-stroke" x="5.71" y="0.5" width="0.58" height="2.3"/>
<rect vector-effect="non-scaling-stroke" x="6.71" y="2.8" width="0.58" height="3.3"/>
<rect vector-effect="non-scaling-stroke" x="9.71" y="-18" width="0.58" height="4.7"/>
<rect vector-effect="non-scaling-stroke" x="10.71" y="-13.3" width="0.58" height="12.8"/>
<rect vector-effect="non-scaling-stroke" x="11.71" y="-0.5" width="0.58" height="1.1"/>
<rect vector-effect="non-scaling-stroke" x="13.71" y="-3.3" width="0.58" height="12.4"/>
<rect vector-effect="non-scaling-stroke" x="14.71" y="9.1" width="0.58" height="5.7"/>
<rect vector-effect="non-scaling-stroke" x="17.71" y="7.3" width="0.58" height="2.5"/>
<rect vector-effect="non-scaling-stroke" x="18.71" y="9.8" width="0.58" height="3.2"/>
<rect vector-effect="non-scaling-stroke" x="20.71" y="11.6" width="0.58" height="1.6"/>
<rect vector-effect="non-scaling-stroke" x="21.71" y="13.2" width="0.58" height="12.3"/>
<rect vector-effect="non-scaling-stroke" x="22.71" y="25.5" width="0.58" height="1.6"/>
<rect vector-effect="non-scaling-stroke" x="24.71" y="22.5" width="0.58" height="3.1"/>
<rect vector-effect="non-scaling-stroke" x="28.71" y="10.8" width="0.58" height="6.1"/>
<rect vector-effect="non-scaling-stroke" x="29.71" y="16.9" width="0.58" height="9.9"/>
<rect vector-effect="non-scaling-stroke" x="33.71" y="16.6" width="0.58" height="1.7"/>
<rect vector-effect="non-scaling-stroke" x="35.71" y="9.7" width="0.58" height="3.1"/>
<rect vector-effect="non-scaling-stroke" x="37.71" y="12.1" width="0.58" height="2.8"/>
<rect vector-effect="non-scaling-stroke" x="38.71" y="14.9" width="0.58" height="8.9"/>
<rect vector-effect="non-scaling-stroke" x="39.71" y="23.8" width="0.58" height="6.9"/>
<rect vector-effect="non-scaling-stroke" x="40.71" y="30.7" width="0.58" height="1.2"/>
<rect vector-effect="non-scaling-stroke" x="43.71" y="26.4" width="0.58" height="4.1"/>
<rect vector-effect="non-scaling-stroke" x="45.71" y="23" width="0.58" height="5"/>
<rect vector-effect="non-scaling-stroke" x="46.71" y="28" width="0.58" height="12.1"/>
<rect vector-effect="non-scaling-stroke" x="50.71" y="20.6" width="0.58" height="8.2"/>
<rect vector-effect="non-scaling-stroke" x="51.71" y="28.8" width="0.58" height="9.4"/>
<rect vector-effect="non-scaling-stroke" x="52.71" y="38.2" width="0.58" height="7.7"/>
<rect vector-effect="non-scaling-stroke" x="53.71" y="45.9" width="0.58" height="2.5"/>
<rect vector-effect="non-scaling-stroke" x="55.71" y="47" width="0.58" height="1"/>
<rect vector-effect="non-scaling-stroke" x="56.71" y="48" width="0.58" height="2"/>
<rect vector-effect="non-scaling-stroke" x="60.71" y="33.4" width="0.58" height="10.9"/>
<rect vector-effect="non-scaling-stroke" x="61.71" y="44.3" width="0.58" height="11"/>
<rect vector-effect="non-scaling-stroke" x="62.71" y="55.3" width="0.58" height="1.5"/>
<rect vector-effect="non-scaling-stroke" x="64.71" y="55.5" width="0.58" height="4.2"/>
<rect vector-effect="non-scaling-stroke" x="70.71" y="-1" width="0.58" height="7.8"/>
<rect vector-effect="non-scaling-stroke" x="74.71" y="-25.9" width="0.58" height="21.3"/>
<rect vector-effect="non-scaling-stroke" x="76.71" y="-8" width="0.58" height="9.9"/>
<rect vector-effect="non-scaling-stroke" x="77.71" y="1.9" width="0.58" height="0.9"/>
<rect vector-effect="non-scaling-stroke" x="78.71" y="2.8" width="0.58" height="3.8"/>
<rect vector-effect="non-scaling-stroke" x="80.71" y="-22" width="0.58" height="9.2"/>
<rect vector-effect="non-scaling-stroke" x="81.71" y="-12.8" width="0.58" height="5.1"/>
<rect vector-effect="non-scaling-stroke" x="83.71" y="-13.05" width="0.58" height="15.15"/>
<rect vector-effect="non-scaling-stroke" x="84.71" y="2.1" width="0.58" height="8.8"/>
<rect vector-effect="non-scaling-stroke" x="85.71" y="10.9" width="0.58" height="24.1"/>
<rect vector-effect="non-scaling-stroke" x="87.71" y="34.5" width="0.58" height="1.6"/>
<rect vector-effect="non-scaling-stroke" x="88.71" y="36.1" width="0.58" height="1.4"/>
<rect vector-effect="non-scaling-stroke" x="91.71" y="17.2" width="0.58" height="5.3"/>
<rect vector-effect="non-scaling-stroke" x="93.71" y="20.9" width="0.58" height="3.7"/>
<rect vector-effect="non-scaling-stroke" x="94.71" y="24.6" width="0.58" height="13.2"/>
<rect vector-effect="non-scaling-stroke" x="95.71" y="37.8" width="0.58" height="1.6"/>
<rect vector-effect="non-scaling-stroke" x="96.71" y="39.4" width="0.58" height="4.4"/>
<rect vector-effect="non-scaling-stroke" x="97.71" y="43.8" width="0.58" height="0.8"/>
<rect vector-effect="non-scaling-stroke" x="98.71" y="44.6" width="0.58" height="3.8"/>
<rect vector-effect="non-scaling-stroke" x="100.71" y="38.9" width="0.58" height="8.9"/>
<rect vector-effect="non-scaling-stroke" x="101.71" y="47.8" width="0.58" height="5.1"/>
<rect vector-effect="non-scaling-stroke" x="102.71" y="52.9" width="0.58" height="15.4"/>
<rect vector-effect="non-scaling-stroke" x="103.71" y="68.3" width="0.58" height="3.2"/>
<rect vector-effect="non-scaling-stroke" x="104.71" y="71.5" width="0.58" height="1"/>
<rect vector-effect="non-scaling-stroke" x="106.71" y="70.7" width="0.58" height="13.7"/>
</g>
<g fill="#dd2222" stroke="#000" stroke-width="0.8">
<rect vector-effect="non-scaling-stroke" x="4.71" y="0.5" width="0.58" height="0.7"/>
<rect vector-effect="non-scaling-stroke" x="7.71" y="1" width="0.58" height="5.1"/>
<rect vector-effect="non-scaling-stroke" x="8.71" y="-18" width="0.58" height="19"/>
<rect vector-effect="non-scaling-stroke" x="12.71" y="-3.3" width="0.58" height="3.9"/>
<rect vector-effect="non-scaling-stroke" x="15.71" y="12.9" width="0.58" height="1.9"/>
<rect vector-effect="non-scaling-stroke" x="16.71" y="7.3" width="0.58" height="5.6"/>
<rect vector-effect="non-scaling-stroke" x="19.71" y="11.6" width="0.58" height="1.4"/>
<rect vector-effect="non-scaling-stroke" x="23.71" y="22.5" width="0.58" height="4.6"/>
<rect vector-effect="non-scaling-stroke" x="25.71" y="23.5" width="0.58" height="2.1"/>
<rect vector-effect="non-scaling-stroke" x="26.71" y="18.3" width="0.58" height="5.2"/>
<rect vector-effect="non-scaling-stroke" x="27.71" y="10.8" width="0.58" height="7.5"/>
<rect vector-effect="non-scaling-stroke" x="30.71" y="24.7" width="0.58" height="2.1"/>
<rect vector-effect="non-scaling-stroke" x="31.71" y="18.3" width="0.58" height="6.4"/>
<rect vector-effect="non-scaling-stroke" x="32.71" y="16.6" width="0.58" height="1.7"/>
<rect vector-effect="non-scaling-stroke" x="34.71" y="9.7" width="0.58" height="8.6"/>
<rect vector-effect="non-scaling-stroke" x="36.71" y="12.1" width="0.58" height="0.7"/>
<rect vector-effect="non-scaling-stroke" x="41.71" y="30.6" width="0.58" height="1.3"/>
<rect vector-effect="non-scaling-stroke" x="42.71" y="26.4" width="0.58" height="4.2"/>
<rect vector-effect="non-scaling-stroke" x="44.71" y="23" width="0.58" height="7.5"/>
<rect vector-effect="non-scaling-stroke" x="47.71" y="23.9" width="0.58" height="16.2"/>
<rect vector-effect="non-scaling-stroke" x="48.71" y="22.2" width="0.58" height="1.7"/>
<rect vector-effect="non-scaling-stroke" x="49.71" y="20.6" width="0.58" height="1.6"/>
<rect vector-effect="non-scaling-stroke" x="54.71" y="47" width="0.58" height="1.4"/>
<rect vector-effect="non-scaling-stroke" x="57.71" y="48.3" width="0.58" height="1.7"/>
<rect vector-effect="non-scaling-stroke" x="58.71" y="38.1" width="0.58" height="10.2"/>
<rect vector-effect="non-scaling-stroke" x="59.71" y="33.4" width="0.58" height="4.7"/>
<rect vector-effect="non-scaling-stroke" x="63.71" y="55.5" width="0.58" height="1.3"/>
<rect vector-effect="non-scaling-stroke" x="65.71" y="57.6" width="0.58" height="2.1"/>
<rect vector-effect="non-scaling-stroke" x="66.71" y="56.4" width="0.58" height="1.2"/>
<rect vector-effect="non-scaling-stroke" x="67.71" y="51.2" width="0.58" height="5.2"/>
<rect vector-effect="non-scaling-stroke" x="68.71" y="49.4" width="0.58" height="1.8"/>
<rect vector-effect="non-scaling-stroke" x="69.71" y="-1" width="0.58" height="50.4"/>
<rect vector-effect="non-scaling-stroke" x="71.71" y="3.2" width="0.58" height="3.6"/>
<rect vector-effect="non-scaling-stroke" x="72.71" y="-12.8" width="0.58" height="16"/>
<rect vector-effect="non-scaling-stroke" x="73.71" y="-25.9" width="0.58" height="13.1"/>
<rect vector-effect="non-scaling-stroke" x="75.71" y="-8" width="0.58" height="3.4"/>
<rect vector-effect="non-scaling-stroke" x="79.71" y="-22" width="0.58" height="28.6"/>
<rect vector-effect="non-scaling-stroke" x="82.71" y="-13.05" width="0.58" height="5.35"/>
<rect vector-effect="non-scaling-stroke" x="86.71" y="34.5" width="0.58" height="0.5"/>
<rect vector-effect="non-scaling-stroke" x="89.71" y="28.6" width="0.58" height="8.9"/>
<rect vector-effect="non-scaling-stroke" x="90.71" y="17.2" width="0.58" height="11.4"/>
<rect vector-effect="non-scaling-stroke" x="92.71" y="20.9" width="0.58" height="1.6"/>
<rect vector-effect="non-scaling-stroke" x="99.71" y="38.9" width="0.58" height="9.5"/>
<rect vector-effect="non-scaling-stroke" x="105.71" y="70.7" width="0.58" height="1.8"/>
</g>
</g>
<line x1="67.75" y1="1376.5" x2="67.75" y2="1387.5" stroke="#000" stroke-width="1"/>
<rect x="65" y="1378.5" width="5.5" height="6.5" fill="#00ff00" stroke="#000" stroke-width="0.8"/>
<text x="75" y="1386" font-size="11" fill="#000" textLength="338" lengthAdjust="spacingAndGlyphs">S&amp;P 500 INDEX, .INX, Tageschart - 11/13/2006 - 4/20/2007 - 1484.35</text>
<text x="62" y="1399" font-size="11" fill="#000080" textLength="165" lengthAdjust="spacingAndGlyphs">XX EMA [Close, 200]:1383.526185</text>
<text x="62" y="1426.5" font-size="11" fill="#000" textLength="116" lengthAdjust="spacingAndGlyphs">© www.tradesignal.com</text>

<path d="M58.3 1728.3H748" stroke="#e00000" stroke-width="2"/>
<path d="M58.3 1760.3H748" stroke="#a80000" stroke-width="2"/>
<g font-size="11">
<text x="62" y="1722" fill="#000080" textLength="198" lengthAdjust="spacingAndGlyphs">XX SSTOC [16, 5, 4] %K Slow:96.041047</text>
<text x="263" y="1722" fill="#0000ff" textLength="98" lengthAdjust="spacingAndGlyphs">%D Slow:95.933749</text>
<text x="62" y="1737" fill="#e00000" textLength="175" lengthAdjust="spacingAndGlyphs">XX DSS-BLAU [Close, 2]:99.835582</text>
<text x="62" y="1748.5" fill="#800000" textLength="321" lengthAdjust="spacingAndGlyphs">XX SSTOC(2) [5, 3, 3] %K Slow:90.407923 %D Slow:91.055972</text>
</g>
<g transform="translate(0,1700) scale(0.517,0.33333)" fill="none" stroke-width="1">
<polyline vector-effect="non-scaling-stroke" stroke="#800000" points="120,110 160,75 200,115 235,170 260,120 290,70 330,95 365,140 400,85 430,115 455,180 480,120 520,80 548,165 580,100 610,68 650,110 690,180 730,80 760,65 790,105 820,165 850,75 880,65 910,130 945,145 975,190 1000,145 1030,85 1060,140 1100,70 1140,65 1165,140 1190,160 1220,70 1250,62 1270,95 1295,95 1320,62 1345,70"/>
<polyline vector-effect="non-scaling-stroke" stroke="#800000" points="120,120 170,80 210,100 240,150 270,140 300,80 340,85 380,125 410,100 440,100 465,160 495,140 530,95 560,150 590,120 620,75 660,95 700,165 740,90 770,68 800,90 830,150 860,90 890,70 920,110 950,160 985,180 1010,160 1040,100 1075,125 1110,80 1150,68 1175,120 1200,150 1230,85 1260,65 1285,90 1310,85 1345,68"/>
<polyline vector-effect="non-scaling-stroke" stroke="#0000ff" stroke-dasharray="4 2" points="120,100 160,75 200,65 240,78 280,92 310,80 350,80 390,88 430,100 470,108 510,125 550,150 575,155 610,118 650,90 690,92 720,108 750,82 790,68 820,82 850,92 870,75 900,70 935,95 960,150 985,180 1020,182 1060,177 1095,168 1125,125 1150,80 1175,68 1205,80 1235,82 1265,68 1300,62 1345,64"/>
<polyline vector-effect="non-scaling-stroke" stroke="#000080" stroke-width="1.3" points="120,95 150,70 190,62 230,80 270,95 300,75 340,80 380,85 420,100 460,105 500,120 540,145 560,157 600,110 640,85 680,92 710,110 740,75 780,65 810,85 840,95 860,70 890,68 920,85 945,140 970,185 1000,183 1040,178 1080,175 1110,140 1140,85 1160,65 1190,78 1220,85 1250,70 1290,62 1345,62"/>
<polyline vector-effect="non-scaling-stroke" stroke="#ff0000" stroke-width="1.3" points="120,105 150,72 185,60 220,68 245,95 270,100 300,72 330,85 360,88 400,95 440,110 480,125 520,140 555,155 590,100 620,75 650,88 690,105 720,110 745,72 775,65 800,90 830,100 860,68 890,65 915,95 945,160 970,188 1000,182 1040,180 1080,170 1110,130 1140,80 1160,65 1185,85 1215,90 1245,65 1280,62 1345,62"/>
</g>

<path d="M58.3 1804.3H748" stroke="#5e5e5e" stroke-width="1"/>
<path d="M58.3 1817.7H748" stroke="#6a6a6a" stroke-width="1"/>
<g stroke="#7a7a7a" stroke-dasharray="3.6 2.34">
<line x1="59.4" y1="1805.05" x2="89.1" y2="1805.05" stroke-width="1.5"/>
<line x1="89.1" y1="1805.3" x2="112.86" y2="1805.3" stroke-width="2"/>
<line x1="112.86" y1="1806.05" x2="154.44" y2="1806.05" stroke-width="3.5"/>
<line x1="154.44" y1="1805.3" x2="219.78" y2="1805.3" stroke-width="2"/>
<line x1="219.78" y1="1805.05" x2="279.18" y2="1805.05" stroke-width="1.5"/>
<line x1="279.18" y1="1805.55" x2="332.64" y2="1805.55" stroke-width="2.5"/>
<line x1="332.64" y1="1805.3" x2="374.22" y2="1805.3" stroke-width="2"/>
<line x1="374.22" y1="1805.05" x2="421.74" y2="1805.05" stroke-width="1.5"/>
<line x1="421.74" y1="1806.05" x2="469.26" y2="1806.05" stroke-width="3.5"/>
<line x1="469.26" y1="1805.3" x2="481.14" y2="1805.3" stroke-width="2"/>
<line x1="617.76" y1="1802.8" x2="635.58" y2="1802.8" stroke-width="3"/>
<line x1="635.58" y1="1802.3" x2="671.22" y2="1802.3" stroke-width="4"/>
<line x1="671.22" y1="1802.05" x2="700.92" y2="1802.05" stroke-width="4.5"/>
</g>
<g fill="#7a7a7a">
<rect x="481.14" y="1804.3" width="3.6" height="5"/>
<rect x="487.08" y="1804.3" width="3.6" height="8"/>
<rect x="493.02" y="1804.3" width="3.6" height="11"/>
<rect x="498.96" y="1804.3" width="3.6" height="13"/>
<rect x="504.9" y="1804.3" width="3.6" height="14"/>
<rect x="510.84" y="1804.3" width="3.6" height="13"/>
<rect x="516.78" y="1804.3" width="3.6" height="11"/>
<rect x="522.72" y="1804.3" width="3.6" height="9"/>
<rect x="528.66" y="1804.3" width="3.6" height="7"/>
<rect x="534.6" y="1804.3" width="3.6" height="6"/>
<rect x="540.54" y="1804.3" width="3.6" height="5"/>
<rect x="546.48" y="1804.3" width="3.6" height="4"/>
<rect x="552.42" y="1804.3" width="3.6" height="3"/>
<rect x="558.36" y="1804.3" width="3.6" height="1"/>
<rect x="564.3" y="1802.3" width="3.6" height="2"/>
<rect x="570.24" y="1800.3" width="3.6" height="4"/>
<rect x="576.18" y="1798.3" width="3.6" height="6"/>
<rect x="582.12" y="1797.3" width="3.6" height="7"/>
<rect x="588.06" y="1797.3" width="3.6" height="7"/>
<rect x="594" y="1798.3" width="3.6" height="6"/>
<rect x="599.94" y="1799.3" width="3.6" height="5"/>
<rect x="605.88" y="1800.3" width="3.6" height="4"/>
<rect x="611.82" y="1801.3" width="3.6" height="3"/>
</g>
<g transform="translate(0,1700) scale(0.517,0.33333)" fill="none">
<polyline vector-effect="non-scaling-stroke" stroke="#000080" stroke-width="1.5" points="120,272 200,270 280,270 340,280 400,285 460,288 500,292 540,297 580,295 640,292 700,292 760,290 800,287 860,282 900,285 940,300 970,322 1000,338 1040,350 1075,358 1100,352 1140,340 1180,330 1220,315 1260,300 1300,290 1345,272"/>
<polyline vector-effect="non-scaling-stroke" stroke="#ff0000" stroke-width="1.5" points="120,270 200,272 280,272 340,278 380,285 440,290 480,288 520,295 560,298 620,295 700,298 740,292 800,282 840,285 880,282 900,285 920,305 940,330 960,345 980,358 1020,365 1050,368 1075,368 1090,358 1110,335 1130,315 1160,310 1200,305 1240,295 1280,285 1320,268 1345,258"/>
</g>
<g font-size="11">
<text x="62" y="1789" fill="#ff0000" textLength="191" lengthAdjust="spacingAndGlyphs">XX MACDA [Close, 12, 26, 9]:14.65912</text>
<text x="254" y="1789" fill="#000080" textLength="90" lengthAdjust="spacingAndGlyphs">Trigger:10.551738</text>
<text x="346" y="1789" fill="#7a7a7a" textLength="79" lengthAdjust="spacingAndGlyphs">MACDF:4.10738</text>
</g>

<path d="M58.3 1853.3H748M58.3 1873.3H748M58.3 1894.3H748" stroke="#000" stroke-width="1.3"/>
<text x="62" y="1845" font-size="11" fill="#000" textLength="116" lengthAdjust="spacingAndGlyphs">XX CCI [20]:163.514851</text>
<g transform="translate(0,1825) scale(0.517,0.33333)" fill="none">
<polyline vector-effect="non-scaling-stroke" stroke="#000" stroke-width="1" points="118,110 130,95 142,72 150,68 162,78 175,85 190,90 200,92 210,105 222,140 235,152 245,128 255,118 265,130 272,140 280,110 290,88 300,93 315,100 330,112 340,103 350,112 362,100 372,80 385,73 398,97 410,102 420,102 432,120 442,138 452,137 462,113 472,113 483,125 490,135 500,150 512,160 522,178 532,182 545,180 555,175 570,125 580,105 592,92 605,97 615,110 625,107 640,130 648,117 660,92 672,125 682,150 695,150 710,120 722,90 735,73 748,78 760,87 775,87 790,105 800,125 810,147 822,120 835,97 848,100 860,103 880,103 895,112 910,128 918,170 925,255 935,255 945,245 955,228 970,220 980,200 992,185 1005,177 1020,172 1032,175 1045,185 1060,175 1075,170 1090,158 1100,140 1110,118 1125,95 1140,88 1150,92 1160,100 1170,118 1185,125 1195,127 1210,110 1225,108 1245,105 1260,115 1275,112 1290,100 1300,75 1315,68 1330,78 1335,90 1345,83"/>
</g>

<g fill="none" stroke="#4a4a4a" stroke-width="1">
<rect x="58.3" y="1374" width="689.7" height="333"/>
<rect x="58.3" y="1711" width="689.7" height="63"/>
<rect x="58.3" y="1777.5" width="689.7" height="52.5"/>
<rect x="58.3" y="1833.5" width="689.7" height="90"/>
</g>
<path d="M54 1411.5H58.3M54 1428.75H58.3M54 1446H58.3M54 1463.25H58.3M54 1480.5H58.3M54 1497.75H58.3M54 1515H58.3M54 1532.25H58.3M54 1549.5H58.3M54 1566.75H58.3M54 1584H58.3M54 1601.25H58.3M54 1618.5H58.3M54 1635.75H58.3M54 1653H58.3M54 1670.25H58.3M54 1687.5H58.3M748 1411.5H752M748 1428.75H752M748 1446H752M748 1463.25H752M748 1480.5H752M748 1497.75H752M748 1515H752M748 1532.25H752M748 1549.5H752M748 1566.75H752M748 1584H752M748 1601.25H752M748 1618.5H752M748 1635.75H752M748 1653H752M748 1670.25H752M748 1687.5H752M748 1758H752M748 1817.7H752M54 1817.7H58.3M748 1871H752M748 1885H752M748 1899H752M748 1912.3H752M54 1871H58.3M54 1885H58.3M54 1899H58.3M54 1912.3H58.3" stroke="#000" stroke-width="1"/>
<line x1="60.7" y1="1925.5" x2="699" y2="1925.5" stroke="#000" stroke-width="3" stroke-dasharray="1 4.94"/>
<g font-size="13" fill="#000" text-anchor="end">
<text x="52.5" y="1416">1470</text>
<text x="52.5" y="1433.25">1460</text>
<text x="52.5" y="1450.5">1450</text>
<text x="52.5" y="1467.75">1440</text>
<text x="52.5" y="1485">1430</text>
<text x="52.5" y="1502.25">1420</text>
<text x="52.5" y="1519.5">1410</text>
<text x="52.5" y="1536.75">1400</text>
<text x="52.5" y="1554">1390</text>
<text x="52.5" y="1571.25">1380</text>
<text x="52.5" y="1588.5">1370</text>
<text x="52.5" y="1605.75">1360</text>
<text x="52.5" y="1623">1350</text>
<text x="52.5" y="1640.25">1340</text>
<text x="52.5" y="1657.5">1330</text>
<text x="52.5" y="1674.75">1320</text>
<text x="52.5" y="1692">1310</text>
</g>
<g font-size="13" fill="#000">
<text x="755" y="1416">1470</text>
<text x="755" y="1433.25">1460</text>
<text x="755" y="1450.5">1450</text>
<text x="755" y="1467.75">1440</text>
<text x="755" y="1485">1430</text>
<text x="755" y="1502.25">1420</text>
<text x="755" y="1519.5">1410</text>
<text x="755" y="1536.75">1400</text>
<text x="755" y="1554">1390</text>
<text x="755" y="1571.25">1380</text>
<text x="755" y="1588.5">1370</text>
<text x="755" y="1605.75">1360</text>
<text x="755" y="1623">1350</text>
<text x="755" y="1640.25">1340</text>
<text x="755" y="1657.5">1330</text>
<text x="755" y="1674.75">1320</text>
<text x="755" y="1692">1310</text>
</g>
<g font-size="12" fill="#000">
<text x="54" y="1386" text-anchor="end">USD</text>
<text x="751" y="1386">USD</text>
<text x="54" y="1722" text-anchor="end" textLength="46" lengthAdjust="spacingAndGlyphs">DSS-BLAU</text>
<text x="752" y="1722" textLength="31" lengthAdjust="spacingAndGlyphs">SSTOC</text>
<text x="756" y="1762">25</text>
<text x="54" y="1788" text-anchor="end" textLength="36" lengthAdjust="spacingAndGlyphs">MACDA</text>
<text x="752" y="1788" textLength="35" lengthAdjust="spacingAndGlyphs">MACDA</text>
<text x="52" y="1822" text-anchor="end">-10</text>
<text x="756" y="1822">-10</text>
<text x="54" y="1845" text-anchor="end" textLength="19" lengthAdjust="spacingAndGlyphs">CCI</text>
<text x="752" y="1845" textLength="19" lengthAdjust="spacingAndGlyphs">CCI</text>
<text x="52" y="1875" text-anchor="end">0</text>
<text x="52" y="1889" text-anchor="end">-100</text>
<text x="52" y="1903" text-anchor="end">-200</text>
<text x="52" y="1916.5" text-anchor="end">-300</text>
<text x="756" y="1875">0</text>
<text x="754" y="1889">-100</text>
<text x="754" y="1903">-200</text>
<text x="754" y="1916.5">-300</text>
</g>
<g font-size="11.5" fill="#000" text-anchor="middle">
<text x="69" y="1944.5">13.</text>
<text x="98" y="1944.5">20.</text>
<text x="122" y="1944.5">27.</text>
<text x="140" y="1944.5">Dec</text>
<text x="181" y="1944.5">11.</text>
<text x="212" y="1944.5">18.</text>
<text x="241" y="1944.5">26.</text>
<text x="265" y="1944.5">2007</text>
<text x="310" y="1944.5">16.</text>
<text x="334" y="1944.5">22.</text>
<text x="384" y="1944.5">Feb</text>
<text x="424" y="1944.5">12.</text>
<text x="452" y="1944.5">20.</text>
<text x="496" y="1944.5">Mar</text>
<text x="534" y="1944.5">12.</text>
<text x="565" y="1944.5">19.</text>
<text x="595" y="1944.5">26.</text>
<text x="625" y="1944.5">Apr</text>
<text x="646" y="1944.5">9.</text>
<text x="680" y="1944.5">16.</text>
</g>
</svg>
</body></html>
